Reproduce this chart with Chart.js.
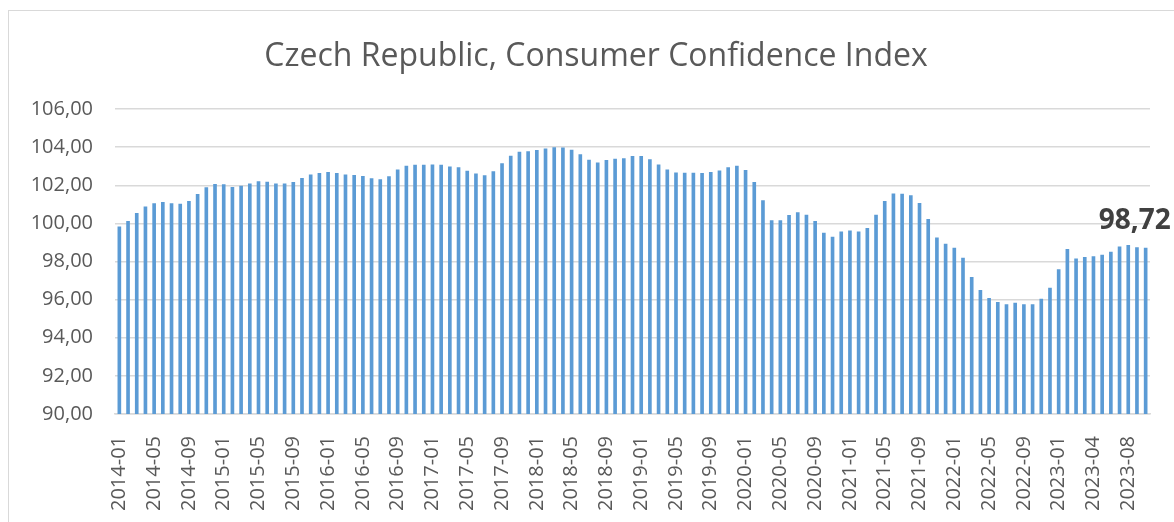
<!DOCTYPE html>
<html>
  <head>
    <title>Czech Republic, Consumer Confidence Index</title>
    <script src="https://cdn.jsdelivr.net/npm/chart.js"></script>

    <style>
      body {
        margin: 0;
        background-color: #ffffff;
        overflow: hidden;
      }
      .frame {
        position: absolute;
        left: 8px;
        top: 10px;
        width: 1300px;
        height: 700px;
        border: 1.5px solid #d9d9d9;
      }
      #wrap {
        position: absolute;
        left: 0;
        top: 0;
        width: 1174px;
        height: 522px;
      }
    </style>
  </head>
  <body>
    <div class="frame"></div>
    <div id="wrap">
      <canvas id="cciChart"></canvas>
    </div>

    <script>
      const months = ["01", "02", "03", "04", "05", "06", "07", "08", "09", "10", "11", "12"];
      const years = [2014, 2015, 2016, 2017, 2018, 2019, 2020, 2021, 2022];
      const lastYearLabels = [
        "2023-01", "2023-02", "2023-03", "2023-03", "2023-04", "2023-05",
        "2023-06", "2023-07", "2023-08", "2023-09", "2023-10",
      ];

      const labels = [];
      years.forEach((y) => months.forEach((m) => labels.push(y + "-" + m)));
      lastYearLabels.forEach((l) => labels.push(l));

      // index values, one per month
      const cci = [
        99.83, 100.12, 100.54, 100.89, 101.05, 101.12, 101.05, 101.03, 101.17, 101.54, 101.89, 102.07,
        102.05, 101.91, 101.97, 102.09, 102.21, 102.19, 102.09, 102.09, 102.17, 102.38, 102.56, 102.64,
        102.69, 102.64, 102.57, 102.54, 102.49, 102.37, 102.31, 102.47, 102.83, 103.02, 103.07, 103.07,
        103.09, 103.07, 102.99, 102.94, 102.76, 102.62, 102.53, 102.73, 103.15, 103.55, 103.76, 103.79,
        103.85, 103.93, 104.0, 103.98, 103.86, 103.62, 103.34, 103.2, 103.32, 103.39, 103.41, 103.53,
        103.53, 103.37, 103.09, 102.83, 102.67, 102.66, 102.66, 102.64, 102.69, 102.78, 102.94, 103.02,
        102.8, 102.17, 101.21, 100.16, 100.16, 100.44, 100.59, 100.45, 100.12, 99.51, 99.3, 99.58,
        99.63, 99.58, 99.76, 100.45, 101.17, 101.57, 101.56, 101.47, 101.07, 100.23, 99.26, 98.93,
        98.72, 98.2, 97.19, 96.51, 96.09, 95.87, 95.76, 95.83, 95.76, 95.76, 96.04, 96.62,
        97.6, 98.65, 98.16, 98.23, 98.28, 98.35, 98.51, 98.79, 98.86, 98.75, 98.72,
      ];

      const yMin = 90;
      const yMax = 106;
      const yStep = 2;

      const fmt = (v) => v.toFixed(2).replace(".", ",");

      // label above the last bar
      const lastValueLabel = {
        id: "lastValueLabel",
        afterDatasetsDraw(chart) {
          const meta = chart.getDatasetMeta(0);
          const bar = meta.data[meta.data.length - 1];
          const ctx = chart.ctx;
          ctx.save();
          ctx.font = "bold 28px 'Open Sans'";
          ctx.fillStyle = "#404040";
          ctx.textAlign = "center";
          ctx.textBaseline = "alphabetic";
          ctx.fillText(fmt(cci[cci.length - 1]), bar.x - 11, bar.y - 19);
          ctx.restore();
        },
      };

      // nudge the title box a bit to the right, like the original
      const titleShift = {
        id: "titleShift",
        afterLayout(chart) {
          if (chart.titleBlock) chart.titleBlock.left += 42;
        },
      };

      const ctx = document.getElementById("cciChart").getContext("2d");

      new Chart(ctx, {
        type: "bar",
        data: {
          labels: labels,
          datasets: [
            {
              label: "Consumer Confidence Index",
              data: cci,
              backgroundColor: "#5b9bd5",
              borderWidth: 0,
              barPercentage: 0.42,
              categoryPercentage: 1.0,
            },
          ],
        },
        options: {
          responsive: true,
          maintainAspectRatio: false,
          animation: false,
          layout: {
            padding: { top: 0, right: 24, bottom: 0, left: 0 },
          },
          plugins: {
            legend: { display: false },
            tooltip: { enabled: false },
            title: {
              display: true,
              text: "Czech Republic, Consumer Confidence Index",
              color: "#595959",
              font: { family: "'Open Sans'", size: 32, weight: "normal", lineHeight: 1.2 },
              padding: { top: 38, bottom: 32.6 },
            },
          },
          scales: {
            x: {
              grid: { display: false },
              border: { display: true, color: "#d9d9d9", width: 1.5 },
              ticks: {
                autoSkip: false,
                maxRotation: 90,
                minRotation: 90,
                padding: 14,
                color: "#595959",
                font: { family: "'Open Sans'", size: 20 },
                callback: function (value, index) {
                  return index % 4 === 0 ? labels[index] : "";
                },
              },
              afterFit: (scale) => {
                scale.height = 108;
                scale.paddingLeft = 0;
                scale.paddingRight = 0;
              },
            },
            y: {
              min: yMin,
              max: yMax,
              border: { display: false },
              grid: { color: "#d9d9d9", lineWidth: 1.5, drawTicks: false },
              ticks: {
                stepSize: yStep,
                padding: 22,
                color: "#595959",
                font: { family: "'Open Sans'", size: 20 },
                callback: (v) => fmt(v),
              },
              afterFit: (scale) => {
                scale.width = 115;
              },
            },
          },
        },
        plugins: [lastValueLabel, titleShift],
      });
    </script>
  </body>
</html>
